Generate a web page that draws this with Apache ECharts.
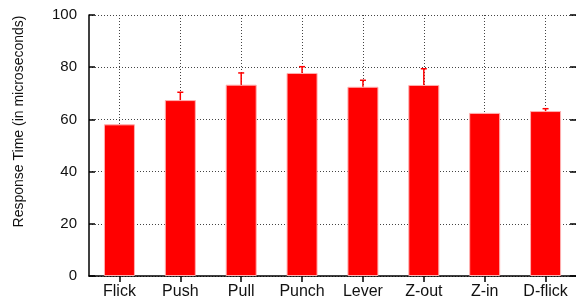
<!DOCTYPE html>
<html>
<head>
<meta charset="utf-8">
<script src="https://cdn.jsdelivr.net/npm/echarts@6/dist/echarts.min.js"></script>
<style>
  html, body { margin: 0; padding: 0; background: #fff; }
  #chart { width: 576px; height: 300px; }
</style>
</head>
<body>
<div id="chart"></div>
<script>
// gesture categories and response times
const categories = ['Flick', 'Push', 'Pull', 'Punch', 'Lever', 'Z-out', 'Z-in', 'D-flick']
const meanTimes = [58.1, 67.4, 73.3, 77.8, 72.5, 73.2, 62.5, 63.2]
const errorTops = [58.1, 70.4, 77.8, 80.2, 75.0, 79.4, 62.5, 64.1]
const yTicks = [0, 20, 40, 60, 80, 100]

const font = 'Liberation Sans, Arial, Helvetica, sans-serif'
const dotted = { color: '#444', width: 1, type: [1, 2] }

let chart = echarts.init(document.getElementById('chart'))

// error bar points: [index, low, high]
let errData = []
for (let i = 0; i < categories.length; i++) {
  errData.push([i, meanTimes[i], errorTops[i]])
}

let option = {
  animation: false,
  grid: { left: 89, right: -1, top: 15, bottom: 24 },
  xAxis: [{
    type: 'category',
    data: categories,
    axisLine: { show: true, lineStyle: { color: '#000', width: 1.5 } },
    axisTick: { show: false },
    axisLabel: { color: '#111', fontSize: 16, fontFamily: font, margin: 8 },
    splitLine: { show: true, alignWithLabel: true, lineStyle: dotted }
  }, {
    type: 'category',
    position: 'top',
    data: categories,
    axisLine: { show: false },
    axisTick: { show: true, inside: true, alignWithLabel: true, length: 6, lineStyle: { color: '#000', width: 1.5 } },
    axisLabel: { show: false },
    splitLine: { show: false }
  }],
  yAxis: [{
    type: 'value',
    min: 0,
    max: 100,
    interval: 20,
    name: 'Response Time (in microseconds)',
    nameLocation: 'middle',
    nameGap: 63,
    nameTextStyle: { color: '#111', fontSize: 14, fontFamily: font, padding: [0, 0, 0, 48] },
    axisLine: { show: true, lineStyle: { color: '#000', width: 1.5 } },
    axisTick: { show: true, inside: true, length: 6, lineStyle: { color: '#000', width: 1.5 } },
    axisLabel: {
      color: '#111', fontSize: 15, fontFamily: font, margin: 12,
      formatter: v => yTicks.indexOf(v) >= 0 ? String(v) : ''
    },
    splitLine: { show: true, lineStyle: dotted }
  }, {
    type: 'value',
    position: 'right',
    min: 0,
    max: 100,
    interval: 20,
    axisLine: { show: false },
    axisTick: { show: true, inside: true, length: 6, lineStyle: { color: '#000', width: 1.5 } },
    axisLabel: { show: false },
    splitLine: { show: false }
  }],
  series: [{
    type: 'bar',
    data: meanTimes,
    barWidth: 31,
    itemStyle: { color: '#ff0000', borderColor: '#ffb0b0', borderWidth: 1 },
    z: 2
  }, {
    type: 'custom',
    data: errData,
    z: 3,
    renderItem: function (params, api) {
      let top = api.coord([api.value(0), api.value(2)])
      let low = api.coord([api.value(0), api.value(1)])
      if (api.value(2) <= api.value(1)) return { type: 'group', children: [] }
      let style = { stroke: '#ff0000', lineWidth: 1.5 }
      return {
        type: 'group',
        children: [
          { type: 'line', shape: { x1: top[0], y1: top[1], x2: low[0], y2: low[1] }, style: style },
          { type: 'line', shape: { x1: top[0] - 3, y1: top[1], x2: top[0] + 3, y2: top[1] }, style: style }
        ]
      }
    }
  }]
}

chart.setOption(option)
</script>
</body>
</html>
